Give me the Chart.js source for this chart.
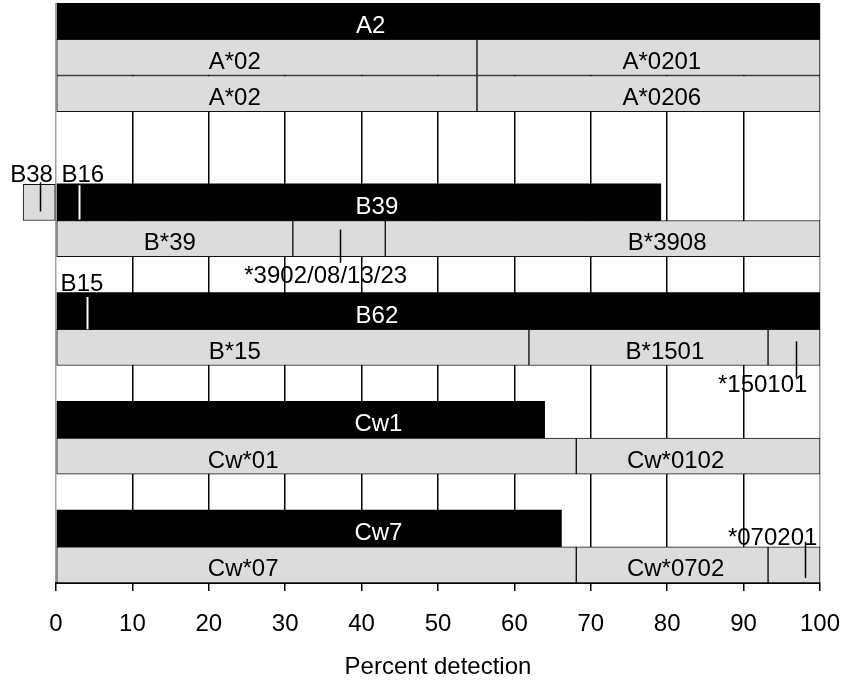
<!DOCTYPE html>
<html>
<head>
<meta charset="utf-8">
<script src="https://cdn.jsdelivr.net/npm/chart.js@4.4.1/dist/chart.umd.min.js"></script>
<style>
  html, body { margin: 0; padding: 0; background: #fff; }
  #wrap { position: relative; width: 846px; height: 683px; }
</style>
</head>
<body>
<div id="wrap"><canvas id="chart"></canvas></div>
<script>
// 16 rows top to bottom, empty strings are spacer rows
const rows = ["A2", "A*02", "A*02", "", "", "B39", "B*39", "", "B62", "B*15", "", "Cw1", "Cw*01", "", "Cw7", "Cw*07"];

// serological detection (black bars), [start, end] in percent
const serology = [[0, 100], null, null, null, null, [0, 79.2], null, null, [0, 100], null, null, [0, 64], null, null, [0, 66.2], null];
// allele level segments (grey bars)
const alleleFirst = [null, [0, 55.1], [0, 55.1], null, null, null, [0, 31], null, null, [0, 61.9], null, null, [0, 68.1], null, null, [0, 68.1]];
const alleleSecond = [null, [55.1, 100], [55.1, 100], null, null, null, [31, 43.1], null, null, [61.9, 93.2], null, null, [68.1, 100], null, null, [68.1, 93.2]];
const alleleThird = [null, null, null, null, null, null, [43.1, 100], null, null, [93.2, 100], null, null, null, null, null, [93.2, 100]];
// cross-reactive B38 reading, left of zero
const crossReact = [null, null, null, null, null, [-4.3, 0], null, null, null, null, null, null, null, null, null, null];

const xTicks = [0, 10, 20, 30, 40, 50, 60, 70, 80, 90, 100];

const FONT = '"Liberation Sans", Arial, sans-serif';
const GREY = "#dcdcdc";

// text on and around the bars: [text, row, x, place, colour]
const barTexts = [
  ["A2", 0, 41.2, "in", "#fff"],
  ["A*02", 1, 23.4, "in", "#000"],
  ["A*0201", 1, 79.3, "in", "#000"],
  ["A*02", 2, 23.4, "in", "#000"],
  ["A*0206", 2, 79.3, "in", "#000"],
  ["B38", 5, -3.2, "above", "#000"],
  ["B16", 5, 3.5, "above", "#000"],
  ["B39", 5, 42, "in", "#fff"],
  ["B*39", 6, 14.9, "in", "#000"],
  ["B*3908", 6, 80, "in", "#000"],
  ["*3902/08/13/23", 6, 35.3, "below", "#000"],
  ["B15", 8, 3.4, "above", "#000"],
  ["B62", 8, 42, "in", "#fff"],
  ["B*15", 9, 23.4, "in", "#000"],
  ["B*1501", 9, 79.7, "in", "#000"],
  ["*150101", 9, 92.5, "below", "#000"],
  ["Cw1", 11, 42.2, "in", "#fff"],
  ["Cw*01", 12, 24.5, "in", "#000"],
  ["Cw*0102", 12, 81.1, "in", "#000"],
  ["Cw7", 14, 42.2, "in", "#fff"],
  ["*070201", 15, 93.8, "above", "#000"],
  ["Cw*07", 15, 24.5, "in", "#000"],
  ["Cw*0702", 15, 81.1, "in", "#000"]
];

// little pointer lines: [x, row, offset from row top, offset from row bottom, colour]
const pointers = [
  [-2.1, 5, -2, -9, "#000"],
  [3.0, 5, 1, -1, "#fff"],
  [37.2, 6, 9, 6, "#000"],
  [4.0, 8, 4, 0, "#fff"],
  [96.9, 9, 12, 12, "#000"],
  [98.0, 15, -5, -5, "#000"]
];

const annotate = {
  id: "annotate",
  afterDatasetsDraw(chart) {
    const ctx = chart.ctx;
    const xs = chart.scales.x;
    const ys = chart.scales.y;
    const half = (ys.getPixelForValue(1) - ys.getPixelForValue(0)) / 2;
    ctx.save();
    pointers.forEach(([x, row, dTop, dBot, col]) => {
      const c = ys.getPixelForValue(row);
      const px = Math.round(xs.getPixelForValue(x)) + 0.5;
      ctx.strokeStyle = col;
      ctx.lineWidth = col === "#fff" ? 2 : 1.5;
      ctx.beginPath();
      ctx.moveTo(px, c - half + dTop);
      ctx.lineTo(px, c + half + dBot);
      ctx.stroke();
    });
    ctx.font = "24px " + FONT;
    ctx.textAlign = "center";
    ctx.textBaseline = "alphabetic";
    barTexts.forEach(([txt, row, x, place, col]) => {
      const c = ys.getPixelForValue(row);
      let y = c + 11.5;
      if (place === "above") y = c - half - 2;
      if (place === "below") y = c + half + 26;
      ctx.fillStyle = col;
      ctx.fillText(txt, xs.getPixelForValue(x), y);
    });
    ctx.restore();
  }
};

const greyBar = (label, data) => ({
  label: label,
  data: data,
  backgroundColor: GREY,
  borderColor: "#111",
  borderWidth: 1,
  borderSkipped: false,
  grouped: false,
  barPercentage: 1,
  categoryPercentage: 1
});

new Chart(document.getElementById("chart"), {
  type: "bar",
  data: {
    labels: rows,
    datasets: [
      greyBar("allele 1", alleleFirst),
      greyBar("allele 2", alleleSecond),
      greyBar("allele 3", alleleThird),
      Object.assign(greyBar("cross reactive", crossReact), { clip: false }),
      {
        label: "serology",
        data: serology,
        backgroundColor: "#000",
        borderWidth: 0,
        grouped: false,
        barPercentage: 1.04,
        categoryPercentage: 1
      }
    ]
  },
  options: {
    indexAxis: "y",
    responsive: true,
    maintainAspectRatio: false,
    animation: false,
    layout: { padding: { left: 56, right: 26, top: 3, bottom: 0 } },
    plugins: {
      legend: { display: false },
      tooltip: { enabled: false },
      title: { display: false }
    },
    scales: {
      x: {
        type: "linear",
        min: 0,
        max: 100,
        afterBuildTicks: (axis) => { axis.ticks = xTicks.map(v => ({ value: v })); },
        grid: {
          color: (c) => (c.tick && (c.tick.value === 0 || c.tick.value === 100)) ? "#a0a0a0" : "#000",
          lineWidth: 1.5,
          tickColor: "#000",
          tickLength: 8,
          tickWidth: 1.5
        },
        border: { display: true, color: "#000", width: 2 },
        ticks: {
          color: "#000",
          padding: 0,
          font: { family: FONT, size: 24, lineHeight: 2.79 }
        },
        title: {
          display: true,
          text: "Percent detection",
          color: "#000",
          font: { family: FONT, size: 24, lineHeight: 0.75 },
          padding: { top: 0, bottom: 7 }
        }
      },
      y: {
        type: "category",
        display: false,
        grid: { display: false }
      }
    }
  },
  plugins: [annotate]
});
</script>
</body>
</html>
